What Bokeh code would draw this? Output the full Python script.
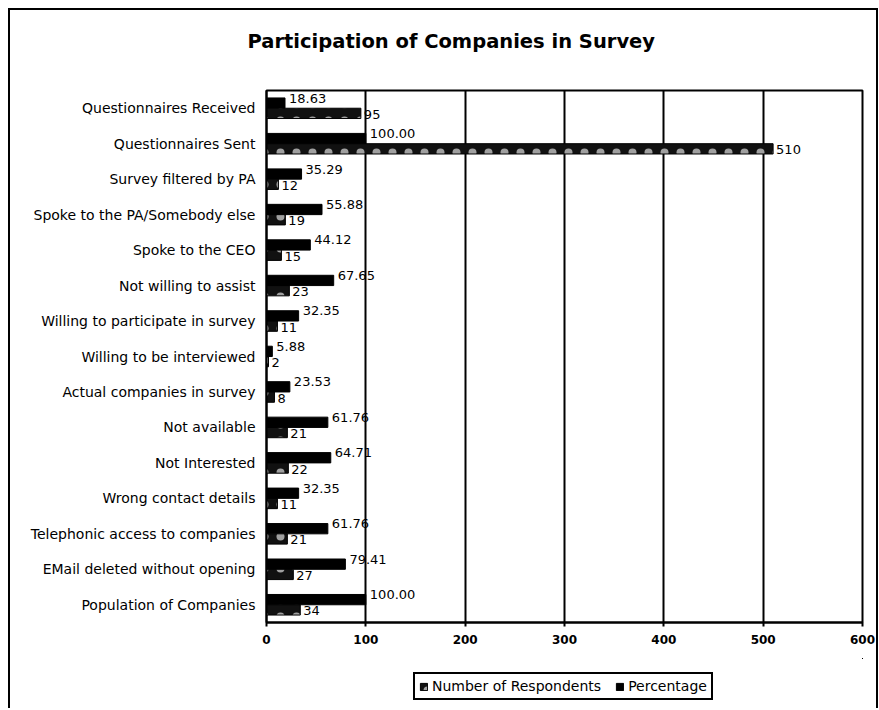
from bokeh.plotting import figure
from bokeh.layouts import column
from bokeh.models import (ColumnDataSource, FactorRange, Legend, LegendItem, FixedTicker,
                          LinearAxis, InlineStyleSheet)
from bokeh.transform import dodge
from bokeh.core.properties import value
from bokeh.embed import file_html
from bokeh.resources import INLINE

# Data (bottom to top, as in the original category order)
categories = [
    "Population of Companies",
    "EMail deleted without opening",
    "Telephonic access to companies",
    "Wrong contact details",
    "Not Interested",
    "Not available",
    "Actual companies in survey",
    "Willing to be interviewed",
    "Willing to participate in survey",
    "Not willing to assist",
    "Spoke to the CEO",
    "Spoke to the PA/Somebody else",
    "Survey filtered by PA",
    "Questionnaires Sent",
    "Questionnaires Received",
]
respondents = [34, 27, 21, 11, 22, 21, 8, 2, 11, 23, 15, 19, 12, 510, 95]
percentage = [100.00, 79.41, 61.76, 32.35, 64.71, 61.76, 23.53, 5.88, 32.35, 67.65, 44.12, 55.88, 35.29, 100.00, 18.63]
x_ticks = [0, 100, 200, 300, 400, 500, 600]
series_names = ["Number of Respondents", "Percentage"]

src = ColumnDataSource(dict(
    cat=categories,
    resp=respondents,
    pct=percentage,
    resp_lbl=[str(v) for v in respondents],
    pct_lbl=["%.2f" % v for v in percentage],
))

FONT = "DejaVu Sans"
RESP_STYLE = dict(fill_color="#111111", line_color="black",
                  hatch_pattern="dot", hatch_color="white", hatch_scale=16,
                  hatch_weight=0.7, hatch_alpha=0.6)
PCT_STYLE = dict(fill_color="black", line_color="black")

p = figure(
    width=877, height=658,
    y_range=FactorRange(factors=categories),
    x_range=(0, 600),
    output_backend="svg", toolbar_location=None,
    min_border_left=266, min_border_right=15, min_border_top=90, min_border_bottom=36,
    title="Participation of Companies in Survey",
)
p.title.align = "left"
p.title.text_font = FONT
p.title.text_font_size = "19.5px"
p.title.text_font_style = "bold"
p.title.text_color = "black"
p.title.standoff = 10
p.title.offset = -19

xa = p.below[0]
ya = p.left[0]

# invisible spacer axis above the frame (pushes the title upward)
spacer_top = LinearAxis(ticker=FixedTicker(ticks=[0]), axis_line_color=None,
                        major_tick_line_color=None, minor_tick_line_color=None,
                        major_label_text_color=None, major_label_text_font_size="12px",
                        major_label_standoff=0,
                        major_tick_out=33, major_tick_in=0, minor_tick_out=0)
p.add_layout(spacer_top, "above")

H = 0.29
D = 0.145
r_pct = p.hbar(y=dodge("cat", D, range=p.y_range), right="pct", left=0, height=H,
               source=src, **PCT_STYLE)
r_resp = p.hbar(y=dodge("cat", -D, range=p.y_range), right="resp", left=0, height=H,
                source=src, **RESP_STYLE)

p.text(x="pct", y=dodge("cat", D, range=p.y_range), text="pct_lbl", source=src,
       x_offset=4, y_offset=-5, text_baseline="middle", text_align="left",
       text_font=value(FONT), text_font_size="13px", text_color="black")
p.text(x="resp", y=dodge("cat", -D, range=p.y_range), text="resp_lbl", source=src,
       x_offset=3, y_offset=1, text_baseline="middle", text_align="left",
       text_font=value(FONT), text_font_size="13px", text_color="black")

xa.ticker = FixedTicker(ticks=x_ticks)
xa.major_label_text_font = FONT
xa.major_label_text_font_size = "12px"
xa.major_label_text_font_style = "bold"
xa.major_label_text_color = "black"
xa.axis_line_color = "black"
xa.axis_line_width = 2
xa.major_tick_line_color = "black"
xa.major_tick_line_width = 2
xa.major_tick_in = 0
xa.major_tick_out = 4
xa.minor_tick_line_color = None
xa.major_label_standoff = 8

ya.major_label_text_font = FONT
ya.major_label_text_font_size = "14px"
ya.major_label_text_color = "black"
ya.axis_line_color = "black"
ya.axis_line_width = 2
ya.major_tick_line_color = None
ya.major_tick_in = 0
ya.major_tick_out = 0
ya.major_label_standoff = 11

p.xgrid.grid_line_color = "black"
p.xgrid.grid_line_width = 2
p.ygrid.grid_line_color = None
p.outline_line_color = "black"
p.outline_line_width = 2

# legend strip below the chart (its renderers reuse the series data, which
# falls outside this strip's 0..1 ranges, so only the legend is visible)
pl = figure(width=877, height=50, x_range=(0, 1), y_range=(0, 1),
            output_backend="svg", toolbar_location=None, min_border=0)
pl.xaxis.visible = False
pl.yaxis.visible = False
pl.xgrid.visible = False
pl.ygrid.visible = False
pl.outline_line_color = None
l_resp = pl.hbar(y="resp", right="resp", left="resp", height=0.1, source=src, **RESP_STYLE)
l_pct = pl.hbar(y="resp", right="pct", left="pct", height=0.1, source=src, **PCT_STYLE)

legend = Legend(items=[
    LegendItem(label=series_names[0], renderers=[l_resp]),
    LegendItem(label=series_names[1], renderers=[l_pct]),
], orientation="horizontal", location=(147, 8))
legend.label_text_font = FONT
legend.label_text_font_size = "14px"
legend.label_text_color = "black"
legend.label_height = 12
legend.border_line_color = "black"
legend.border_line_alpha = 1.0
legend.border_line_width = 2
legend.glyph_width = 9
legend.glyph_height = 9
legend.spacing = 14
legend.label_standoff = 4
legend.padding = 4
legend.margin = 0
pl.add_layout(legend, "center")

layout = column(p, pl)
layout.stylesheets = [InlineStyleSheet(css=(
    ":host::after { content: ''; position: absolute; left: 8px; top: 8px; "
    "width: 870px; height: 700px; box-sizing: border-box; "
    "border: 2px solid black; border-bottom: none; pointer-events: none; }"
))]

open("out.html", "w").write(file_html(layout, INLINE))
